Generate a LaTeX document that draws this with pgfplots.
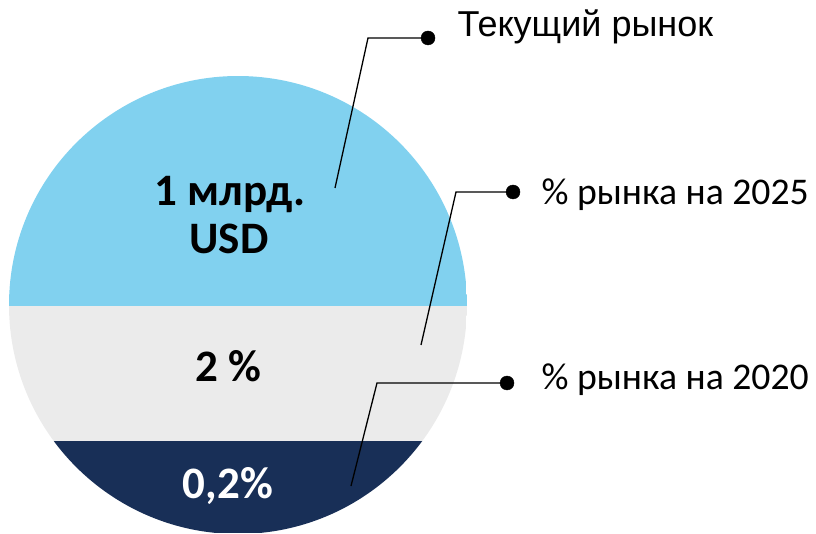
\documentclass[border=0pt]{standalone}
\usepackage{fontspec}
\setmainfont{Carlito}
\newfontfamily\arialf{Liberation Sans}
\usepackage{pgfplots}
\pgfplotsset{compat=1.18}
\definecolor{cblue}{HTML}{81D1EF}
\definecolor{cgray}{HTML}{EBEBEB}
\definecolor{cnavy}{HTML}{182F57}
\begin{document}
\begin{tikzpicture}
\begin{axis}[
  scale only axis, width=816pt, height=533pt,
  xmin=0, xmax=816, ymin=0, ymax=533, y dir=reverse,
  hide axis, clip=false,
]
\path (axis cs:0,0) rectangle (axis cs:816,533);
\begin{scope}
\clip (axis cs:238,305) ellipse [x radius=229, y radius=229];
% bands (pixel rows): top of circle, boundary 1, boundary 2, bottom of circle
\addplot[fill=cblue, draw=none] coordinates {(9,76) (467,76) (467,306) (9,306)} -- cycle;
\addplot[fill=cgray, draw=none] coordinates {(9,306) (467,306) (467,441) (9,441)} -- cycle;
\addplot[fill=cnavy, draw=none] coordinates {(9,441) (467,441) (467,533) (9,533)} -- cycle;
\end{scope}
% leader lines
\addplot[black, line width=1.3pt] coordinates {(335,188) (368,38) (428,38)};
\addplot[black, line width=1.3pt] coordinates {(421,345) (456,192) (513,192)};
\addplot[black, line width=1.3pt] coordinates {(351,486) (377,383) (507,383)};
\addplot[only marks, mark=*, mark size=7pt, black] coordinates {(428,38) (513,192) (507,383)};
% labels
\node[anchor=base west, font=\arialf\fontsize{36}{40}\selectfont] at (axis cs:454,37) {Текущий рынок};
\node[anchor=base west, font=\fontsize{37.7}{40}\selectfont] at (axis cs:538,205) {\% рынка на 2025};
\node[anchor=base west, font=\fontsize{37.7}{40}\selectfont] at (axis cs:538,389) {\% рынка на 2020};
\node[anchor=base, font=\bfseries\fontsize{45}{48}\selectfont] at (axis cs:230,206) {1 млрд.};
\node[anchor=base, font=\bfseries\fontsize{45}{48}\selectfont] at (axis cs:229,254) {USD};
\node[anchor=base, font=\bfseries\fontsize{45}{48}\selectfont] at (axis cs:228,381) {2 \%};
\node[anchor=base, font=\bfseries\fontsize{45}{48}\selectfont, text=white] at (axis cs:228,498) {0,2\%};
\end{axis}
\end{tikzpicture}
\end{document}
